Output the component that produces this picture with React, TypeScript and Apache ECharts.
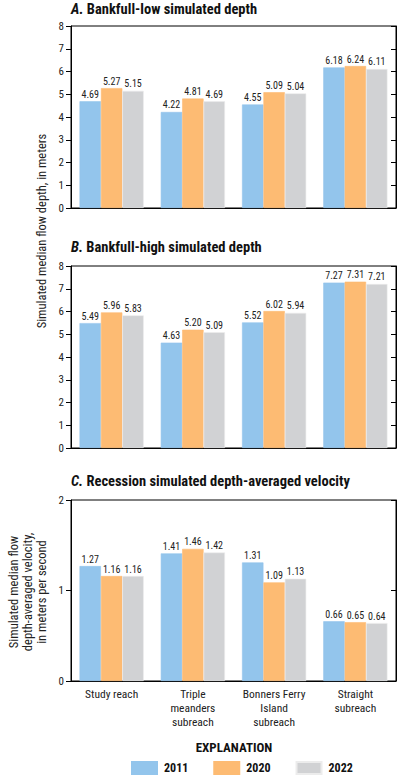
import React, { useEffect, useRef } from "react";
import * as echarts from "echarts";

const categories = ["Study reach", "Triple\nmeanders\nsubreach", "Bonners Ferry\nIsland\nsubreach", "Straight\nsubreach"];
const years = ["2011", "2020", "2022"];
const colors = ["#93C5EC", "#FDBB73", "#D1D2D4"];

const lowDepth2011 = [4.69, 4.22, 4.55, 6.18];
const lowDepth2020 = [5.27, 4.81, 5.09, 6.24];
const lowDepth2022 = [5.15, 4.69, 5.04, 6.11];

const highDepth2011 = [5.49, 4.63, 5.52, 7.27];
const highDepth2020 = [5.96, 5.2, 6.02, 7.31];
const highDepth2022 = [5.83, 5.09, 5.94, 7.21];

const velocity2011 = [1.27, 1.41, 1.31, 0.66];
const velocity2020 = [1.16, 1.46, 1.09, 0.65];
const velocity2022 = [1.16, 1.42, 1.13, 0.64];

const FONT = '"Roboto Condensed", Roboto, "Liberation Sans", sans-serif';

export default function App() {
  const ref = useRef<HTMLDivElement>(null);
  useEffect(() => {
    if (!ref.current) return;
    const chart = echarts.init(ref.current, null, { renderer: "svg" });
    const grids = [
      { left: 71, right: 3, top: 26, height: 182 },
      { left: 71, right: 3, top: 266, height: 182 },
      { left: 71, right: 3, top: 500, height: 181 },
    ].map((g) => ({ ...g, show: true, borderColor: "#000", borderWidth: 1, containLabel: false }));

    const yRanges = [
      { max: 8, interval: 1 },
      { max: 8, interval: 1 },
      { max: 2, interval: 1 },
    ];

    const xAxes = [0, 1, 2].map((i) => ({
      type: "category",
      gridIndex: i,
      data: categories,
      axisLine: { lineStyle: { color: "#000", width: 1 } },
      axisTick: { show: false },
      axisLabel: {
        show: i === 2,
        fontFamily: FONT,
        fontSize: 11.5,
        color: "#222",
        lineHeight: 14,
        margin: 6,
        interval: 0,
      },
    }));

    const yAxes: any[] = [];
    [0, 1, 2].forEach((i) => {
      yAxes.push({
        type: "value",
        gridIndex: i,
        min: 0,
        max: yRanges[i].max,
        interval: yRanges[i].interval,
        axisLine: { show: true, lineStyle: { color: "#000", width: 1 } },
        axisTick: { show: true, length: 5, lineStyle: { color: "#000" } },
        axisLabel: { fontFamily: FONT, fontSize: 11, color: "#222", margin: 7 },
        splitLine: { show: false },
      });
      yAxes.push({
        type: "value",
        gridIndex: i,
        position: "right",
        min: 0,
        max: yRanges[i].max,
        interval: yRanges[i].interval,
        axisLine: { show: true, lineStyle: { color: "#000", width: 1 } },
        axisTick: { show: true, inside: true, length: 5, lineStyle: { color: "#000" } },
        axisLabel: { show: false },
        splitLine: { show: false },
      });
    });

    const panels = [
      [lowDepth2011, lowDepth2020, lowDepth2022],
      [highDepth2011, highDepth2020, highDepth2022],
      [velocity2011, velocity2020, velocity2022],
    ];

    const series: any[] = [];
    panels.forEach((p, gi) => {
      p.forEach((vals, si) => {
        series.push({
          type: "bar",
          name: years[si],
          xAxisIndex: gi,
          yAxisIndex: gi * 2,
          data: vals,
          barGap: "0%",
          barCategoryGap: "21%",
          itemStyle: { color: colors[si], borderColor: si === 2 ? "#ECECEC" : colors[si], borderWidth: 0.6 },
          label: {
            show: true,
            position: "top",
            distance: 2,
            fontFamily: FONT,
            fontSize: 10,
            color: "#222",
            formatter: (d: any) => Number(d.value).toFixed(2),
          },
        });
      });
    });

    const titleText = (letter: string, rest: string) => `{i|${letter}.}{b| ${rest}}`;
    const titleRich = {
      i: { fontFamily: FONT, fontSize: 14.5, fontWeight: "bold", fontStyle: "italic", color: "#111" },
      b: { fontFamily: FONT, fontSize: 14.5, fontWeight: "bold", color: "#111" },
    };

    const option: any = {
      animation: false,
      backgroundColor: "#fff",
      title: [
        { text: titleText("A", "Bankfull-low simulated depth"), left: 71, top: 2, padding: 0, textStyle: { rich: titleRich } },
        { text: titleText("B", "Bankfull-high simulated depth"), left: 71, top: 240, padding: 0, textStyle: { rich: titleRich } },
        { text: titleText("C", "Recession simulated depth-averaged velocity"), left: 71, top: 474, padding: 0, textStyle: { rich: titleRich } },
        {
          text: "EXPLANATION",
          left: 234,
          textAlign: "center",
          top: 741,
          padding: 0,
          textStyle: { fontFamily: FONT, fontSize: 13, fontWeight: "bold", color: "#111" },
        },
      ],
      legend: {
        data: years,
        left: 131,
        top: 761,
        padding: 0,
        itemWidth: 25,
        itemHeight: 12,
        itemGap: 25,
        icon: "rect",
        textStyle: { fontFamily: FONT, fontSize: 12, fontWeight: "bold", color: "#111", padding: [0, 0, 0, 2] },
        selectedMode: false,
      },
      grid: grids,
      xAxis: xAxes,
      yAxis: yAxes,
      series,
      graphic: [
        {
          type: "text",
          x: 41,
          y: 231,
          rotation: Math.PI / 2,
          style: {
            text: "Simulated median flow depth, in meters",
            fontFamily: FONT,
            fontSize: 12.5,
            fill: "#222",
            textAlign: "center",
            textVerticalAlign: "middle",
          },
        },
        {
          type: "text",
          x: 27,
          y: 592,
          rotation: Math.PI / 2,
          style: {
            text: "Simulated median flow\ndepth-averaged velocity,\nin meters per second",
            fontFamily: FONT,
            fontSize: 12.5,
            lineHeight: 14,
            fill: "#222",
            textAlign: "center",
            textVerticalAlign: "middle",
          },
        },
      ],
    };
    chart.setOption(option);
    return () => chart.dispose();
  }, []);
  return <div ref={ref} style={{ position: "absolute", left: 0, top: 0, width: 399, height: 777 }} />;
}
